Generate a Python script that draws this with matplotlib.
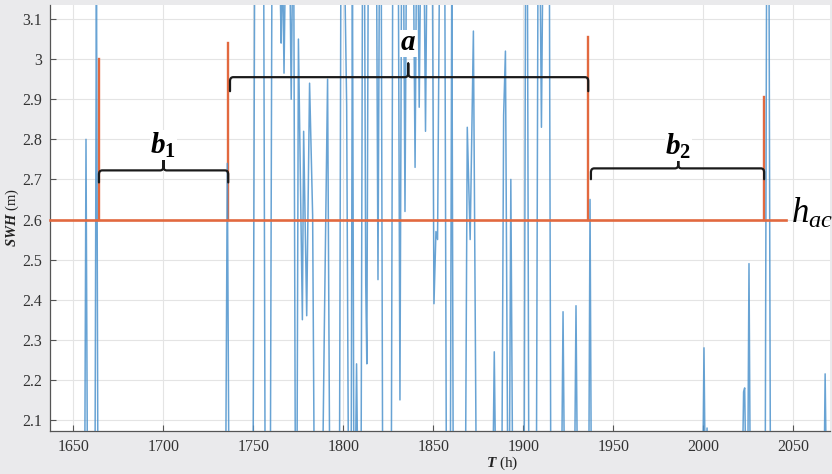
import numpy as np
import matplotlib
matplotlib.use("Agg")
import matplotlib.pyplot as plt
from matplotlib.path import Path
from matplotlib.patches import PathPatch

plt.rcParams['font.family'] = ['Liberation Serif', 'DejaVu Serif']
plt.rcParams['mathtext.fontset'] = 'custom'
plt.rcParams['mathtext.rm'] = 'Liberation Serif'
plt.rcParams['mathtext.it'] = 'Liberation Serif:italic'
plt.rcParams['mathtext.bf'] = 'Liberation Serif:bold'
plt.rcParams['mathtext.bfit'] = 'Liberation Serif:bold:italic'

# ---- data ----
# time series, off-chart values kept just outside the y window
t_hours = [1637, 1656.3, 1657.0, 1657.8, 1662.0, 1662.8, 1663.6, 1734.6, 1735.5, 1736.4,
           1749.8, 1750.7, 1755.7, 1756.5, 1759.4, 1760.3, 1764.6, 1765.4, 1766.2, 1767.0,
           1767.8, 1770.2, 1771.0, 1771.8, 1772.4, 1773.3, 1774.2, 1775.0, 1777.2, 1777.9,
           1779.6, 1781.2, 1782.9, 1783.8, 1788.4, 1789.4, 1791.2, 1792.4, 1797.8, 1798.6,
           1800.6, 1801.8, 1802.8, 1804.3, 1805.0, 1805.8, 1806.6, 1807.3, 1808.0, 1809.8,
           1810.6, 1811.7, 1812.4, 1813.0, 1813.8, 1818.4, 1819.2, 1820.0, 1821.0, 1821.8,
           1826.6, 1827.4, 1830.5, 1831.4, 1832.3, 1833.4, 1834.2, 1835.0, 1838.9, 1839.8,
           1840.6, 1841.4, 1842.1, 1842.9, 1844.8, 1845.6, 1846.4, 1849.4, 1850.3, 1851.4,
           1852.3, 1853.4, 1856.3, 1857.2, 1859.4, 1860.2, 1861.0, 1867.8, 1868.8, 1870.4,
           1872.2, 1873.8, 1883.0, 1883.8, 1884.6, 1888.0, 1889.0, 1890.0, 1891.3, 1892.2,
           1893.0, 1894.0, 1900.4, 1901.2, 1902.2, 1903.0, 1907.2, 1908.1, 1909.2, 1910.0,
           1910.8, 1914.4, 1915.2, 1921.2, 1922.0, 1922.8, 1928.4, 1929.2, 1930.0, 1936.3,
           1937.0, 1937.7, 1999.6, 2000.3, 2001.0, 2002.0, 2002.6, 2021.6, 2022.3, 2022.9,
           2023.6, 2024.6, 2025.3, 2026.0, 2034.3, 2035.1, 2036.4, 2037.2, 2067.0, 2067.6,
           2068.3, 2071]
swh = [1.95, 1.95, 2.80, 1.95, 1.95, 3.25, 1.95, 1.95, 2.74, 1.95,
       1.95, 3.25, 3.25, 1.95, 1.95, 3.25, 3.25, 3.04, 3.25, 2.965,
       3.25, 3.25, 2.90, 3.25, 3.25, 1.95, 1.95, 3.05, 2.35, 2.82,
       2.36, 2.94, 2.61, 1.95, 1.95, 2.33, 2.95, 1.95, 1.95, 3.25,
       3.25, 2.885, 1.95, 1.95, 3.25, 1.95, 1.95, 2.24, 1.95, 1.95,
       3.25, 3.25, 2.44, 2.24, 3.25, 3.25, 2.45, 3.25, 3.25, 1.95,
       1.95, 3.25, 3.25, 2.15, 3.25, 3.25, 2.62, 3.25, 3.25, 2.73,
       3.25, 3.25, 2.88, 3.25, 3.25, 2.82, 3.25, 3.25, 2.39, 2.57,
       2.55, 3.25, 3.25, 1.95, 1.95, 3.25, 1.95, 1.95, 2.83, 2.55,
       3.07, 1.95, 1.95, 2.27, 1.95, 1.95, 2.86, 3.02, 1.95, 1.95,
       2.70, 1.95, 1.95, 3.25, 3.25, 1.95, 1.95, 3.25, 3.25, 2.83,
       3.25, 3.25, 1.95, 1.95, 2.37, 1.95, 1.95, 2.385, 1.95, 1.95,
       2.65, 1.95, 1.95, 2.28, 1.95, 2.08, 1.95, 1.95, 2.17, 2.18,
       1.95, 1.95, 2.49, 1.95, 1.95, 3.25, 3.25, 1.95, 1.95, 2.215,
       1.95, 1.95]

h_ac = 2.6
h_line_span = [1637, 2046]
# vertical markers at the threshold crossings
cross_t = [1664.0, 1736.0, 1936.0, 2033.5]
cross_top = [3.0, 3.04, 3.055, 2.905]
# braces: start, end, level, tip position, label, label height
brace_x0 = [1664.2, 1737.0, 1937.5]
brace_x1 = [1736.0, 1936.0, 2033.7]
brace_y = [2.7225, 2.955, 2.7275]
brace_hook = [0.03, 0.035, 0.027]
brace_tip = [1700.0, 1836.0, 1986.0]
brace_lab = [r'$\mathbfit{b}_{\mathbf{1}}$', r'$\mathbfit{a}$', r'$\mathbfit{b}_{\mathbf{2}}$']
brace_lab_y = [2.765, 3.022, 2.762]

x_ticks = [1650, 1700, 1750, 1800, 1850, 1900, 1950, 2000, 2050]
y_ticks = [2.1, 2.2, 2.3, 2.4, 2.5, 2.6, 2.7, 2.8, 2.9, 3.0, 3.1]
y_tick_labels = ['2.1', '2.2', '2.3', '2.4', '2.5', '2.6', '2.7', '2.8', '2.9', '3', '3.1']

BLUE = '#4d93cd'
ORANGE = '#e2693f'


def draw_brace(ax, x0, x1, y, xm, hook, tip=0.034, dx=1.8, r=0.01):
    verts = [(x0, y - hook), (x0, y - r), (x0, y), (x0 + dx, y),
             (xm - dx, y), (xm, y), (xm, y + r), (xm, y + tip),
             (xm, y + r), (xm, y), (xm + dx, y),
             (x1 - dx, y), (x1, y), (x1, y - r), (x1, y - hook)]
    codes = [Path.MOVETO, Path.LINETO, Path.CURVE3, Path.CURVE3,
             Path.LINETO, Path.CURVE3, Path.CURVE3, Path.LINETO,
             Path.LINETO, Path.CURVE3, Path.CURVE3,
             Path.LINETO, Path.CURVE3, Path.CURVE3, Path.LINETO]
    ax.add_patch(PathPatch(Path(verts, codes), fill=False, color='#1a1a1a',
                           lw=1.6, capstyle='round', joinstyle='round', zorder=5))


fig = plt.figure(figsize=(8.32, 4.74), dpi=100)
fig.patch.set_facecolor('#eaeaec')
ax = fig.add_axes([50 / 832, 43 / 474, 780 / 832, 426 / 474])
ax.set_facecolor('white')

for t, top in zip(cross_t, cross_top):
    ax.plot([t, t], [h_ac, top], color=ORANGE, lw=1.7, zorder=2)

ax.plot(t_hours, swh, color=BLUE, lw=1.1, alpha=0.85, zorder=3)
ax.plot(h_line_span, [h_ac, h_ac], color=ORANGE, lw=1.9, zorder=4, clip_on=False)

for x0, x1, y, xm, hk, lab, ly in zip(brace_x0, brace_x1, brace_y, brace_tip,
                                      brace_hook, brace_lab, brace_lab_y):
    draw_brace(ax, x0, x1, y, xm, hk)
    ax.text(xm, ly, lab, ha='center', va='baseline', fontsize=21, zorder=6,
            bbox=dict(facecolor='white', edgecolor='none', pad=0.5))

ax.text(2048.5, h_ac - 0.008, r'$h_{ac}$', ha='left', va='baseline', fontsize=25, zorder=6)

ax.set_xlim(1637, 2070.3)
ax.set_ylim(2.0725, 3.135)
ax.set_xticks(x_ticks)
ax.set_yticks(y_ticks)
ax.set_yticklabels(y_tick_labels)
ax.tick_params(direction='in', length=4, width=0.8, color='#555555',
               labelsize=11.5, labelcolor='#333333', pad=6, top=False, right=False)
ax.grid(True, color='#e4e4e4', lw=0.8)
ax.set_axisbelow(True)
for side in ['top', 'right']:
    ax.spines[side].set_visible(False)
for side in ['left', 'bottom']:
    ax.spines[side].set_color('#555555')
    ax.spines[side].set_linewidth(0.9)

ax.set_ylabel(r'$\mathbfit{SWH}$ (m)', fontsize=10.5, color='#222222')
ax.yaxis.set_label_coords(-0.037, 0.5)
ax.set_xlabel(r'$\mathbfit{T}$ (h)', fontsize=11, color='#222222')
ax.xaxis.set_label_coords(0.58, -0.055)

fig.savefig('out.png', dpi=100, facecolor=fig.get_facecolor())
